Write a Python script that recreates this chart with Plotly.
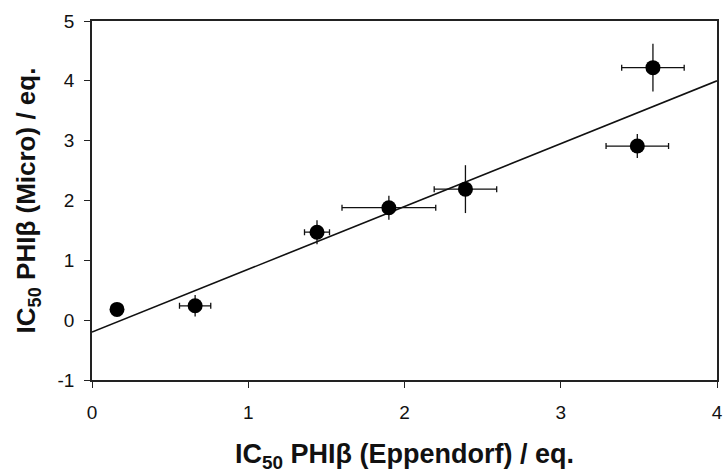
import plotly.graph_objects as go

# IC50 values of PHIβ measured by two methods (equivalents)
eppendorf = [0.16, 0.66, 1.44, 1.90, 2.39, 3.59, 3.49]
micro = [0.18, 0.24, 1.47, 1.88, 2.19, 4.22, 2.91]
eppendorf_err = [0.0, 0.10, 0.08, 0.30, 0.20, 0.20, 0.20]
micro_err = [0.0, 0.18, 0.20, 0.20, 0.40, 0.40, 0.20]

# Linear fit drawn across the full x range
fit_slope = 1.05
fit_intercept = -0.2
fit_x = [0, 4]
fit_y = [fit_intercept + fit_slope * x for x in fit_x]

x_ticks = [0, 1, 2, 3, 4]
y_ticks = [-1, 0, 1, 2, 3, 4, 5]
y_tick_text = ["-1", "0", "1", "2", "3", "4", "5"]

ink = "#111111"
family = "Liberation Sans, Arial, sans-serif"

fig = go.Figure()

fig.add_trace(go.Scatter(
    x=fit_x, y=fit_y, mode="lines",
    line=dict(color=ink, width=1.6),
    showlegend=False, hoverinfo="skip",
))

fig.add_trace(go.Scatter(
    x=eppendorf, y=micro, mode="markers",
    marker=dict(color="black", size=15),
    error_x=dict(type="data", array=eppendorf_err, visible=True,
                 color=ink, thickness=1.3, width=3),
    error_y=dict(type="data", array=micro_err, visible=True,
                 color=ink, thickness=1.3, width=0),
    showlegend=False,
))

axis_common = dict(
    showline=True, linecolor="#222222", linewidth=1.5, mirror=True,
    ticks="outside", ticklen=6, tickcolor="#222222", tickwidth=1.2,
    showgrid=False, zeroline=False,
    tickfont=dict(family=family, size=19, color=ink),
)

fig.update_layout(
    width=728, height=473,
    margin=dict(l=92, r=5, t=21, b=93),
    paper_bgcolor="white", plot_bgcolor="white",
    font=dict(family=family, color=ink),
    xaxis=dict(
        range=[0, 4], tickvals=x_ticks,
        ticklabelstandoff=8,
        title=dict(text="<b>IC<sub>50</sub> PHIβ (Eppendorf) / eq.</b>",
                   font=dict(size=27), standoff=24),
        **axis_common,
    ),
    yaxis=dict(
        range=[-1, 5], tickvals=y_ticks, ticktext=y_tick_text,
        ticklabelstandoff=6,
        title=dict(text="<b>IC<sub>50</sub> PHIβ (Micro) / eq.</b>",
                   font=dict(size=26), standoff=14),
        **axis_common,
    ),
)

fig.write_html("out.html")
